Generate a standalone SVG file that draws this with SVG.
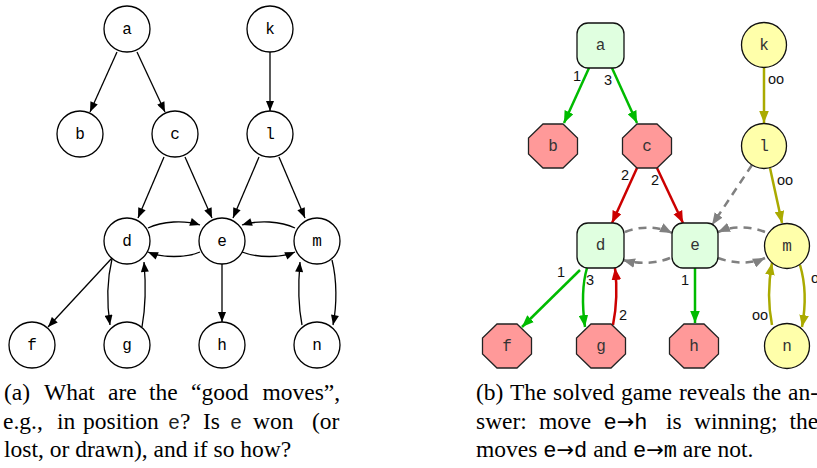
<svg xmlns="http://www.w3.org/2000/svg" xmlns:xlink="http://www.w3.org/1999/xlink" width="817" height="468" viewBox="0 0 817 468">
<style>
.n{fill:#fff;stroke:#000;stroke-width:1.3}
.lbl{font-family:"Liberation Mono","DejaVu Sans Mono",monospace;font-size:16px;text-anchor:middle;fill:#000}
.lbl2{font-family:"Liberation Mono","DejaVu Sans Mono",monospace;font-size:16px;text-anchor:middle;fill:#333}
.e{fill:none;stroke:#000;stroke-width:1.3;marker-end:url(#ab)}
.g{fill:none;stroke:#00bb00;stroke-width:2.5;marker-end:url(#ag)}
.r{fill:none;stroke:#cc0000;stroke-width:2.5;marker-end:url(#ar)}
.y{fill:none;stroke:#aaaa00;stroke-width:2.5;marker-end:url(#ay)}
.d{fill:none;stroke:#808080;stroke-width:2.5;stroke-dasharray:8,6;marker-end:url(#ad)}
.gn{fill:#e0ffe0;stroke:#111;stroke-width:1.3}
.rn{fill:#ff9999;stroke:#222;stroke-width:1.3}
.yn{fill:#ffffaa;stroke:#111;stroke-width:1.3}
.el{font-family:"Liberation Sans",Arial,sans-serif;font-size:14.5px;text-anchor:middle;fill:#111}
.cap{font-family:"Liberation Serif","Times New Roman",serif;font-size:23.5px;fill:#000}
.tt{font-family:"Liberation Mono","Courier New",monospace;font-size:22px}
.te{font-family:"Liberation Mono","Courier New",monospace;font-size:20px;fill:#222}
.ar{font-family:"DejaVu Sans",sans-serif;font-size:21px}
</style>
<defs>
<marker id="ab" viewBox="0 0 10 8" refX="10" refY="4" markerWidth="11" markerHeight="8" markerUnits="userSpaceOnUse" orient="auto"><path d="M0,0 L10,4 L0,8 Z" fill="#000"/></marker>
<marker id="ag" viewBox="0 0 10 8" refX="10" refY="4" markerWidth="12" markerHeight="10" markerUnits="userSpaceOnUse" orient="auto"><path d="M0,0 L10,4 L0,8 Z" fill="#00bb00"/></marker>
<marker id="ar" viewBox="0 0 10 8" refX="10" refY="4" markerWidth="12" markerHeight="10" markerUnits="userSpaceOnUse" orient="auto"><path d="M0,0 L10,4 L0,8 Z" fill="#cc0000"/></marker>
<marker id="ay" viewBox="0 0 10 8" refX="10" refY="4" markerWidth="12" markerHeight="10" markerUnits="userSpaceOnUse" orient="auto"><path d="M0,0 L10,4 L0,8 Z" fill="#aaaa00"/></marker>
<marker id="ad" viewBox="0 0 10 8" refX="10" refY="4" markerWidth="12" markerHeight="10" markerUnits="userSpaceOnUse" orient="auto"><path d="M0,0 L10,4 L0,8 Z" fill="#808080"/></marker>
<path id="oct" d="M-10,-22 L10,-22 L24.5,-8 L24.5,8 L10,22 L-10,22 L-24.5,8 L-24.5,-8 Z"/>
</defs>

<!-- Left graph connectors -->
<g id="edges-left">
<path class="e" d="M117,52 L90,112"/>
<path class="e" d="M137,52 L165,112"/>
<path class="e" d="M270,52 L270,111"/>
<path class="e" d="M164,157 L138,218"/>
<path class="e" d="M185,157 L212,218"/>
<path class="e" d="M259,157 L233,218"/>
<path class="e" d="M279,157 L305,218"/>
<path class="e" d="M148,228 C162,221 185,220 200,225"/>
<path class="e" d="M200,252 C186,258 162,258 148,252"/>
<path class="e" d="M295,228 C281,221 258,220 242,225"/>
<path class="e" d="M242,252 C258,258 281,258 295,252"/>
<path class="e" d="M112,258 L48,327"/>
<path class="e" d="M112,259 C107,280 107,305 110,325"/>
<path class="e" d="M142,327 C146,305 146,285 144,262"/>
<path class="e" d="M222,264 L222,322"/>
<path class="e" d="M332,260 C337,280 337,305 333,325"/>
<path class="e" d="M302,325 C298,305 298,285 300,262"/>
</g>

<!-- Left graph nodes -->
<g id="la"><circle class="n" cx="127" cy="29" r="23"/><text class="lbl" x="127" y="34">a</text></g>
<g id="lk"><circle class="n" cx="270" cy="29" r="23"/><text class="lbl" x="270" y="34">k</text></g>
<g id="lb"><circle class="n" cx="80" cy="134" r="23"/><text class="lbl" x="80" y="139">b</text></g>
<g id="lc"><circle class="n" cx="175" cy="134" r="23"/><text class="lbl" x="175" y="139">c</text></g>
<g id="ll"><circle class="n" cx="270" cy="134" r="23"/><text class="lbl" x="270" y="139">l</text></g>
<g id="ld"><circle class="n" cx="127" cy="241" r="23"/><text class="lbl" x="127" y="246">d</text></g>
<g id="le"><circle class="n" cx="222" cy="241" r="23"/><text class="lbl" x="222" y="246">e</text></g>
<g id="lm"><circle class="n" cx="317" cy="241" r="23"/><text class="lbl" x="317" y="246">m</text></g>
<g id="lf"><circle class="n" cx="32" cy="345" r="23"/><text class="lbl" x="32" y="350">f</text></g>
<g id="lg"><circle class="n" cx="127" cy="345" r="23"/><text class="lbl" x="127" y="350">g</text></g>
<g id="lh"><circle class="n" cx="222" cy="345" r="23"/><text class="lbl" x="222" y="350">h</text></g>
<g id="ln"><circle class="n" cx="317" cy="345" r="23"/><text class="lbl" x="317" y="350">n</text></g>

<!-- Right graph connectors -->
<g id="edges-right">
<path class="g" d="M589,68 L564,123"/>
<path class="g" d="M612,68 L637,123"/>
<path class="y" d="M764,68 L764,123"/>
<path class="r" d="M637,168 L612,223"/>
<path class="r" d="M657,168 L683,223"/>
<path class="d" d="M752,165 L712,225"/>
<path class="y" d="M770,168 L782,223"/>
<path class="d" d="M625,232 C640,226 658,226 672,233"/>
<path class="d" d="M670,258 C656,264 638,264 623,260"/>
<path class="d" d="M765,232 C750,226 732,226 718,232"/>
<path class="d" d="M718,258 C734,264 752,264 765,258"/>
<path class="y" d="M800,265 C806,285 806,305 802,327"/>
<path class="y" d="M772,325 C768,305 768,285 772,263"/>
<path class="g" d="M580,270 L522,327"/>
<path class="g" d="M587,268 C582,285 582,305 585,327"/>
<path class="r" d="M613,325 C617,305 617,285 615,268"/>
<path class="g" d="M695,268 L695,323"/>
<text class="el" x="577" y="81">1</text>
<text class="el" x="608" y="85">3</text>
<text class="el" x="776" y="84">oo</text>
<text class="el" x="625" y="180">2</text>
<text class="el" x="655" y="185">2</text>
<text class="el" x="785" y="185">oo</text>
<text class="el" x="561" y="277">1</text>
<text class="el" x="590" y="285">3</text>
<text class="el" x="623" y="320">2</text>
<text class="el" x="685" y="285">1</text>
<text class="el" x="819" y="283">oo</text>
<text class="el" x="760" y="320">oo</text>
</g>

<!-- Right graph nodes -->
<g id="ra"><rect class="gn" x="577" y="23" width="47" height="45" rx="11"/><text class="lbl2" x="600.5" y="50">a</text></g>
<g id="rk"><circle class="yn" cx="764" cy="45" r="22.5"/><text class="lbl2" x="764" y="50">k</text></g>
<g id="rb"><use href="#oct" xlink:href="#oct" class="rn" x="553" y="146"/><text class="lbl2" x="553" y="151">b</text></g>
<g id="rc"><use href="#oct" xlink:href="#oct" class="rn" x="647" y="146"/><text class="lbl2" x="647" y="151">c</text></g>
<g id="rl"><circle class="yn" cx="764" cy="146" r="22.5"/><text class="lbl2" x="764" y="151">l</text></g>
<g id="rd"><rect class="gn" x="577" y="223" width="47" height="45" rx="11"/><text class="lbl2" x="600.5" y="250">d</text></g>
<g id="re"><rect class="gn" x="672" y="223" width="46" height="45" rx="11"/><text class="lbl2" x="695" y="250">e</text></g>
<g id="rm"><circle class="yn" cx="787" cy="246" r="22.5"/><text class="lbl2" x="787" y="251">m</text></g>
<g id="rf"><use href="#oct" xlink:href="#oct" class="rn" x="507" y="346"/><text class="lbl2" x="507" y="351">f</text></g>
<g id="rg"><use href="#oct" xlink:href="#oct" class="rn" x="601" y="346"/><text class="lbl2" x="601" y="351">g</text></g>
<g id="rh"><use href="#oct" xlink:href="#oct" class="rn" x="694" y="346"/><text class="lbl2" x="694" y="351">h</text></g>
<g id="rn"><circle class="yn" cx="787" cy="346" r="22.5"/><text class="lbl2" x="787" y="351">n</text></g>

<!-- Captions -->
<g id="caption-a" class="cap">
<text y="400"><tspan x="4">(a)</tspan><tspan x="44">What</tspan><tspan x="108">are</tspan><tspan x="149">the</tspan><tspan x="191">“good</tspan><tspan x="262.5">moves”,</tspan></text>
<text y="429"><tspan x="3">e.g.,</tspan><tspan x="57">in</tspan><tspan x="83">position</tspan><tspan x="168" class="te">e</tspan><tspan>?</tspan><tspan x="203">Is</tspan><tspan x="230" class="te">e</tspan><tspan x="253">won</tspan><tspan x="312">(or</tspan></text>
<text x="4" y="457">lost, or drawn), and if so how?</text>
</g>
<g id="caption-b" class="cap">
<text y="400"><tspan x="476">(b)</tspan><tspan x="510">The</tspan><tspan x="553">solved</tspan><tspan x="621">game</tspan><tspan x="679">reveals</tspan><tspan x="752.5">the</tspan><tspan x="788">an-</tspan></text>
<text y="429"><tspan x="476">swer:</tspan><tspan x="539">move</tspan><tspan x="603.5" class="tt">e</tspan><tspan class="ar">→</tspan><tspan class="tt">h</tspan><tspan x="666">is</tspan><tspan x="694">winning;</tspan><tspan x="789.5">the</tspan></text>
<text x="476" y="457">moves <tspan class="tt">e</tspan><tspan class="ar">→</tspan><tspan class="tt">d</tspan> and <tspan class="tt">e</tspan><tspan class="ar">→</tspan><tspan class="tt">m</tspan> are not.</text>
</g>
</svg>
